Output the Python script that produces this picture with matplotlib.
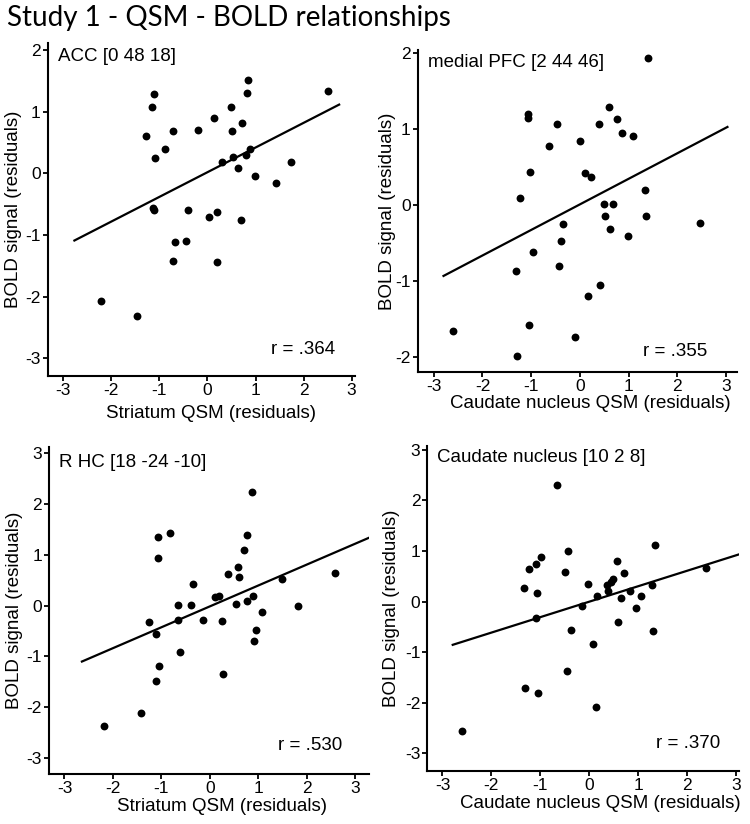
import matplotlib
matplotlib.use("Agg")
import matplotlib.pyplot as plt
import numpy as np

plt.rcParams['font.family'] = ['Liberation Sans', 'DejaVu Sans']
plt.rcParams['axes.unicode_minus'] = False

# --- data ---
acc_x = [2.50, 0.84, 0.82, -1.12, -1.16, 0.48, 0.13, 0.71, -1.29, -0.72, -0.20, 0.52,
         -0.88, -1.10, 0.88, 0.80, 0.53, 0.31, 1.74, 0.63, 0.99, 1.42, -1.14, -1.12,
         -0.40, 0.04, 0.20, 0.69, -0.67, -0.44, -0.71, 0.19, -2.22, -1.46]
acc_y = [1.34, 1.51, 1.31, 1.28, 1.08, 1.08, 0.90, 0.82, 0.61, 0.68, 0.70, 0.69,
         0.39, 0.25, 0.39, 0.30, 0.26, 0.19, 0.18, 0.08, -0.04, -0.16, -0.56, -0.59,
         -0.59, -0.71, -0.63, -0.75, -1.11, -1.09, -1.42, -1.44, -2.07, -2.31]

mpfc_x = [1.39, 0.60, -1.07, -1.07, 0.76, -0.46, 0.40, 0.87, 1.10, 0.00, -0.63, -1.02,
          0.11, 0.22, -1.22, 1.34, 0.50, 0.69, 0.51, 1.36, 2.46, -0.34, 0.62, -0.39,
          0.99, -0.96, -0.43, -1.32, 0.42, 0.17, -1.05, -0.11, -2.60, -1.30]
mpfc_y = [1.94, 1.29, 1.20, 1.15, 1.13, 1.07, 1.07, 0.95, 0.91, 0.85, 0.78, 0.43,
          0.42, 0.37, 0.10, 0.20, 0.02, 0.02, -0.14, -0.14, -0.24, -0.25, -0.31, -0.47,
          -0.40, -0.62, -0.80, -0.86, -1.05, -1.20, -1.58, -1.74, -1.65, -1.98]

rhc_x = [0.87, -0.83, -1.07, 0.77, 0.70, -1.07, 0.59, 0.38, 0.61, 2.59, 1.50, -0.34,
         0.11, 0.20, 0.89, -0.66, -0.39, 0.55, 0.78, 1.83, 1.07, -1.25, -0.65, -0.14,
         0.25, -1.10, 0.96, 0.92, -0.61, -1.05, 0.27, -1.12, -1.41, -2.19]
rhc_y = [2.23, 1.43, 1.35, 1.39, 1.10, 0.94, 0.76, 0.62, 0.57, 0.65, 0.52, 0.42,
         0.17, 0.20, 0.19, 0.01, 0.01, 0.03, 0.09, -0.01, -0.12, -0.33, -0.29, -0.28,
         -0.30, -0.55, -0.48, -0.69, -0.91, -1.19, -1.35, -1.48, -2.12, -2.37]

cn_x = [-0.65, 1.34, -0.43, -0.98, -1.08, -1.24, 0.56, 2.38, -0.49, 0.72, 0.48, 0.44,
        -0.03, 0.37, 1.28, -1.34, 0.38, 0.83, -1.07, 0.17, 1.05, 0.65, -0.14, 0.95,
        -1.08, 0.58, -0.37, 1.31, 0.07, -0.45, -1.31, -1.04, 0.13, -2.60]
cn_y = [2.30, 1.11, 1.00, 0.87, 0.75, 0.64, 0.80, 0.67, 0.59, 0.57, 0.45, 0.39,
        0.35, 0.32, 0.32, 0.26, 0.20, 0.21, 0.17, 0.11, 0.10, 0.06, -0.09, -0.13,
        -0.32, -0.41, -0.57, -0.58, -0.83, -1.38, -1.71, -1.80, -2.08, -2.55]

# fit lines: slope, intercept, x-range
fits = [(0.40, 0.02, (-2.77, 2.74)),
        (0.336, 0.01, (-2.80, 3.03)),
        (0.411, -0.015, (-2.64, 3.29)),
        (0.305, -0.004, (-2.79, 3.07))]

region_labels = ['ACC [0 48 18]', 'medial PFC [2 44 46]',
                 'R HC [18 -24 -10]', 'Caudate nucleus [10 2 8]']
r_labels = ['r = .364', 'r = .355', 'r = .530', 'r = .370']
x_labels = ['Striatum QSM (residuals)', 'Caudate nucleus QSM (residuals)',
            'Striatum QSM (residuals)', 'Caudate nucleus QSM (residuals)']
y_ticks = [[-3, -2, -1, 0, 1, 2], [-2, -1, 0, 1, 2],
           [-3, -2, -1, 0, 1, 2, 3], [-3, -2, -1, 0, 1, 2, 3]]
x_ticks = [-3, -2, -1, 0, 1, 2, 3]

xs = [acc_x, mpfc_x, rhc_x, cn_x]
ys = [acc_y, mpfc_y, rhc_y, cn_y]

# layout in pixels: left, right, top, bottom ; limits
W, H = 750, 824
boxes = [(47.5, 355, 43.3, 375.7), (417.7, 736.7, 50, 371.7),
         (49, 369, 446.7, 774.3), (427.3, 739.3, 446, 770.7)]
xlims = [(-3.33, 3.07), (-3.33, 3.22), (-3.32, 3.29), (-3.31, 3.07)]
ylims = [(-3.28, 2.11), (-2.19, 2.04), (-3.32, 3.13), (-3.34, 3.07)]
r_pos = [(2.65, -2.86), (2.62, -1.93), (2.74, -2.75), (2.69, -2.81)]
lab_y = [1.90, 1.88, 2.81, 2.84]
ylab_off = [26, 22, 26, 27]      # px from the spine to the y label
xlab_cx = [211, 590, 222, 600]   # px, centre of the x label
xlab_off = [29, 23, 24, 24]      # px below the bottom spine

fig = plt.figure(figsize=(7.5, 8.24), dpi=100)

for i in range(4):
    l, r, t, b = boxes[i]
    ax = fig.add_axes([l / W, 1 - b / H, (r - l) / W, (b - t) / H])
    ax.scatter(xs[i], ys[i], s=32, color='black', zorder=3, linewidths=0)
    k, c, (x0, x1) = fits[i]
    lx = np.array([x0, x1])
    ax.plot(lx, k * lx + c, color='black', lw=1.6)
    ax.set_xlim(*xlims[i])
    ax.set_ylim(*ylims[i])
    ax.set_xticks(x_ticks)
    ax.set_yticks(y_ticks[i])
    ax.spines['top'].set_visible(False)
    ax.spines['right'].set_visible(False)
    ax.spines['left'].set_linewidth(1.5)
    ax.spines['bottom'].set_linewidth(1.5)
    ax.tick_params(direction='out', length=3.5, width=1.3, labelsize=12.5, pad=1.5)
    ax.set_xlabel(x_labels[i], fontsize=13.5)
    ax.xaxis.set_label_coords((xlab_cx[i] - l) / (r - l), -xlab_off[i] / (b - t))
    ax.set_ylabel('BOLD signal (residuals)', fontsize=13.5)
    ax.yaxis.set_label_coords(-ylab_off[i] / (r - l), 0.5)
    ax.text(-3.11, lab_y[i], region_labels[i], fontsize=13.5, va='center', ha='left')
    ax.text(r_pos[i][0], r_pos[i][1], r_labels[i], fontsize=13.5, va='center', ha='right')

fig.text(7 / W, 1 - 26 / H, 'Study 1 - QSM - BOLD relationships', fontsize=20,
         family=['Lato', 'DejaVu Sans'], va='baseline', ha='left')

fig.savefig('out.png', dpi=100)
